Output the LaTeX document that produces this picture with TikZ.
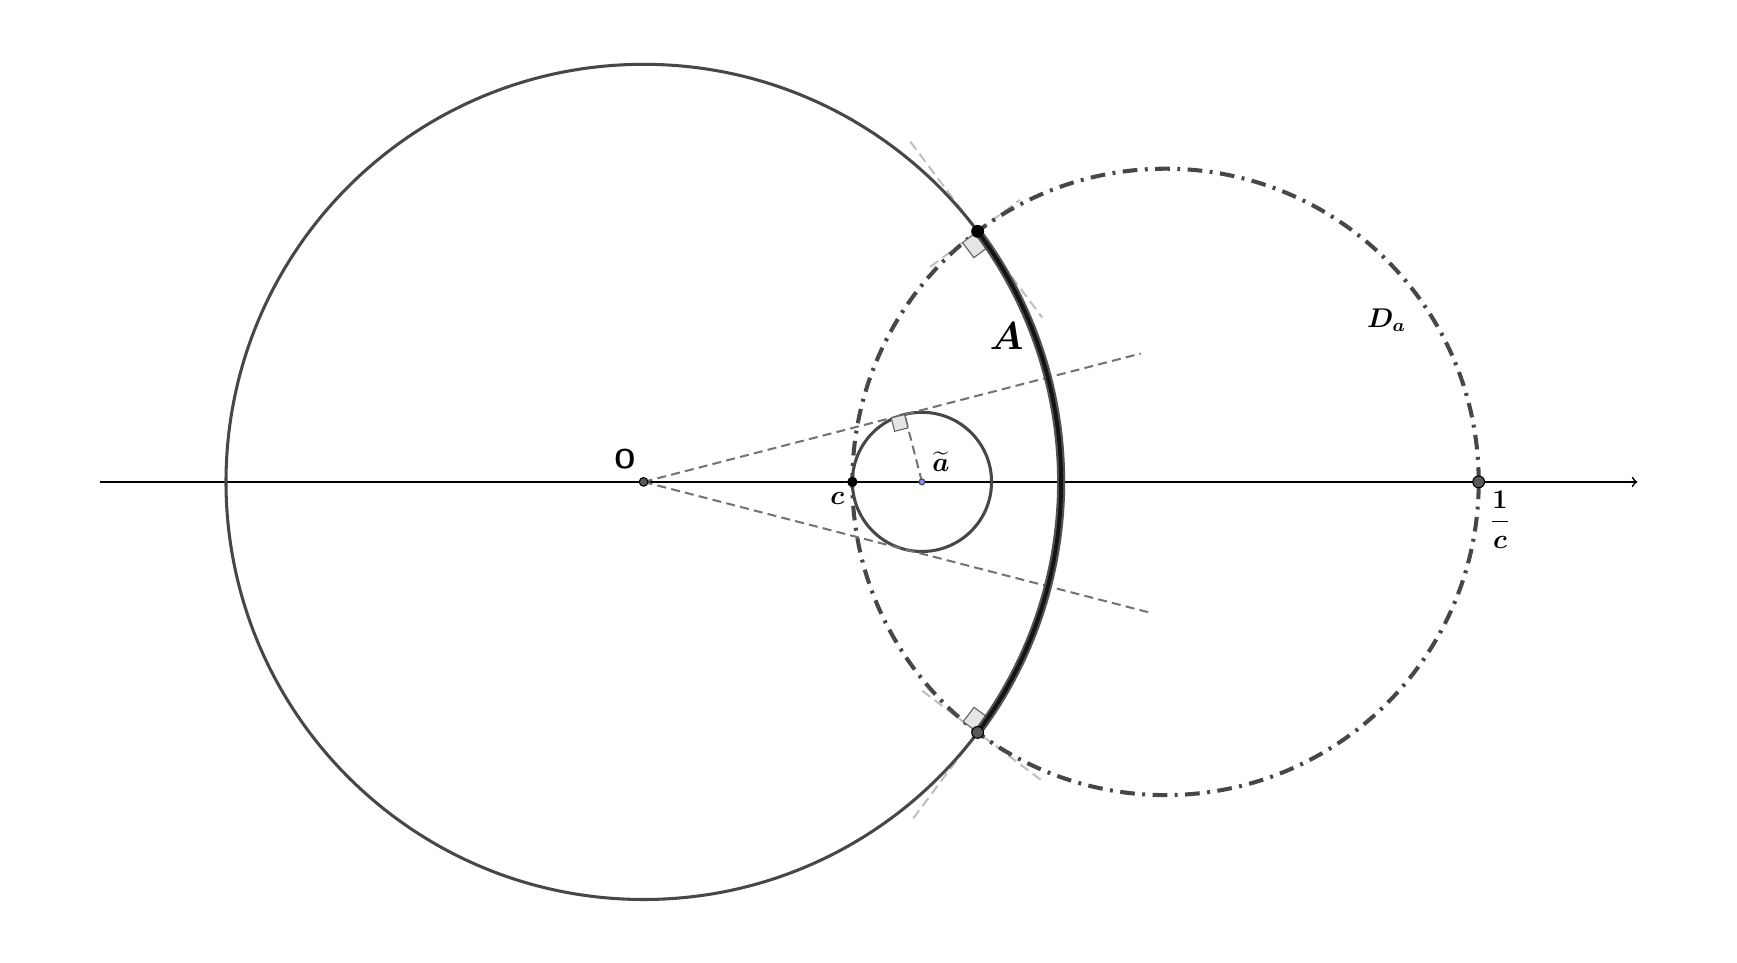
\documentclass[tikz,border=0pt]{standalone}
\usepackage{amsmath,amssymb}
\usepackage{tikz}
\usetikzlibrary{positioning, calc}

\begin{document}
\begin{tikzpicture}[scale=6.5]
	
	\tikzset{
		disk/.style={circle, draw=black, line width=0.5pt, inner sep=0pt, minimum size=#1},
		disk/.default=4pt,
		plain circle/.style={draw=black!72, line width=1.35pt},
		orth circle/.style={draw=black!72, line width=1.8pt,
			dash pattern=on 6.5pt off 3.3pt on 1.3pt off 3.3pt},
		guide/.style={draw=black!55, line width=0.9pt, dash pattern=on 4pt off 2.3pt},
		tangent/.style={draw=black!25, line width=0.9pt, dash pattern=on 4.4pt off 2.4pt},
		right mark/.style={draw=black!60, fill=black!10, line width=0.5pt},
		lbl/.style={inner sep=0pt, font=\mathversion{bold}\large}
	}
	
	\useasboundingbox (-1.5412,-1.1497) rectangle (2.6183,1.154);
	
	% points
	\coordinate (o) at (0,0);
	\coordinate (c) at (0.5,0);
	\coordinate (a) at (2/3,0);
	\coordinate (d) at (1.25,0);
	\coordinate (ic) at (2,0);
	\coordinate (p) at (0.8,0.6);
	\coordinate (q) at (0.8,-0.6);
	\coordinate (t) at (0.625,0.16137);
	\coordinate (u1) at (14.4775:1.23);
	\coordinate (u2) at (-14.4775:1.25);
	\coordinate (xl) at (-1.302,0);
	\coordinate (xr) at (2.38,0);
	
	% tangents at the two crossings
	\draw[tangent] ([shift={(126.87:0.269)}]p) -- ([shift={(-53.13:0.258)}]p);
	\draw[tangent] ([shift={(216.87:0.142)}]p) -- ([shift={(36.87:0.126)}]p);
	\draw[tangent] ([shift={(143.13:0.166)}]q) -- ([shift={(-36.87:0.196)}]q);
	\draw[tangent] ([shift={(233.13:0.257)}]q) -- (q);
	
	\draw[->, line width=0.75pt] (xl) -- (xr);
	
	\draw[plain circle] (o) circle (1);
	\draw[plain circle] (a) circle (1/6);
	\draw[orth circle] (d) circle (0.75);
	
	\draw[guide] (o) -- (u1);
	\draw[guide] (o) -- (u2);
	\draw[guide] (a) -- (t);
	
	\draw[right mark] (t) -- ++(194.48:0.033) -- ++(284.48:0.033) -- ++(14.48:0.033) -- cycle;
	\draw[right mark] (p) -- ++(216.87:0.045) -- ++(306.87:0.045) -- ++(36.87:0.045) -- cycle;
	\draw[right mark] (q) -- ++(143.13:0.043) -- ++(53.13:0.043) -- ++(323.13:0.043) -- cycle;
	
	% the arc A
	\draw[line width=3.6pt, black!68] (p) arc (36.87:-36.87:1);
	\draw[line width=1.7pt, black!92] (p) arc (36.87:-36.87:1);
	
	\node[disk=3.8pt, fill=black!65] (O) at (o) {};
	\node[disk=4pt, fill=black] (C) at (c) {};
	\node[disk=2.6pt, fill=blue!45, draw=black!70] (Ta) at (a) {};
	\node[disk=5.2pt, fill=black] (P) at (p) {};
	\node[disk=5.2pt, fill=black!65] (Q) at (q) {};
	\node[disk=5.2pt, fill=black!65] (IC) at (ic) {};
	
	\node[lbl] (lO) at (-0.045,0.054) {\sffamily\bfseries O};
	\node[lbl] (lc) at (0.464,-0.039) {$c$};
	\node[lbl] (la) at (0.712,0.048) {$\widetilde{a}$};
	\node[lbl] (lA) at (0.869,0.348) {\LARGE$A$};
	\node[lbl] (lD) at (1.779,0.388) {$D_a$};
	\node[lbl] (lic) at (2.051,-0.091) {$\dfrac{1}{c}$};
	
\end{tikzpicture}
\end{document}
